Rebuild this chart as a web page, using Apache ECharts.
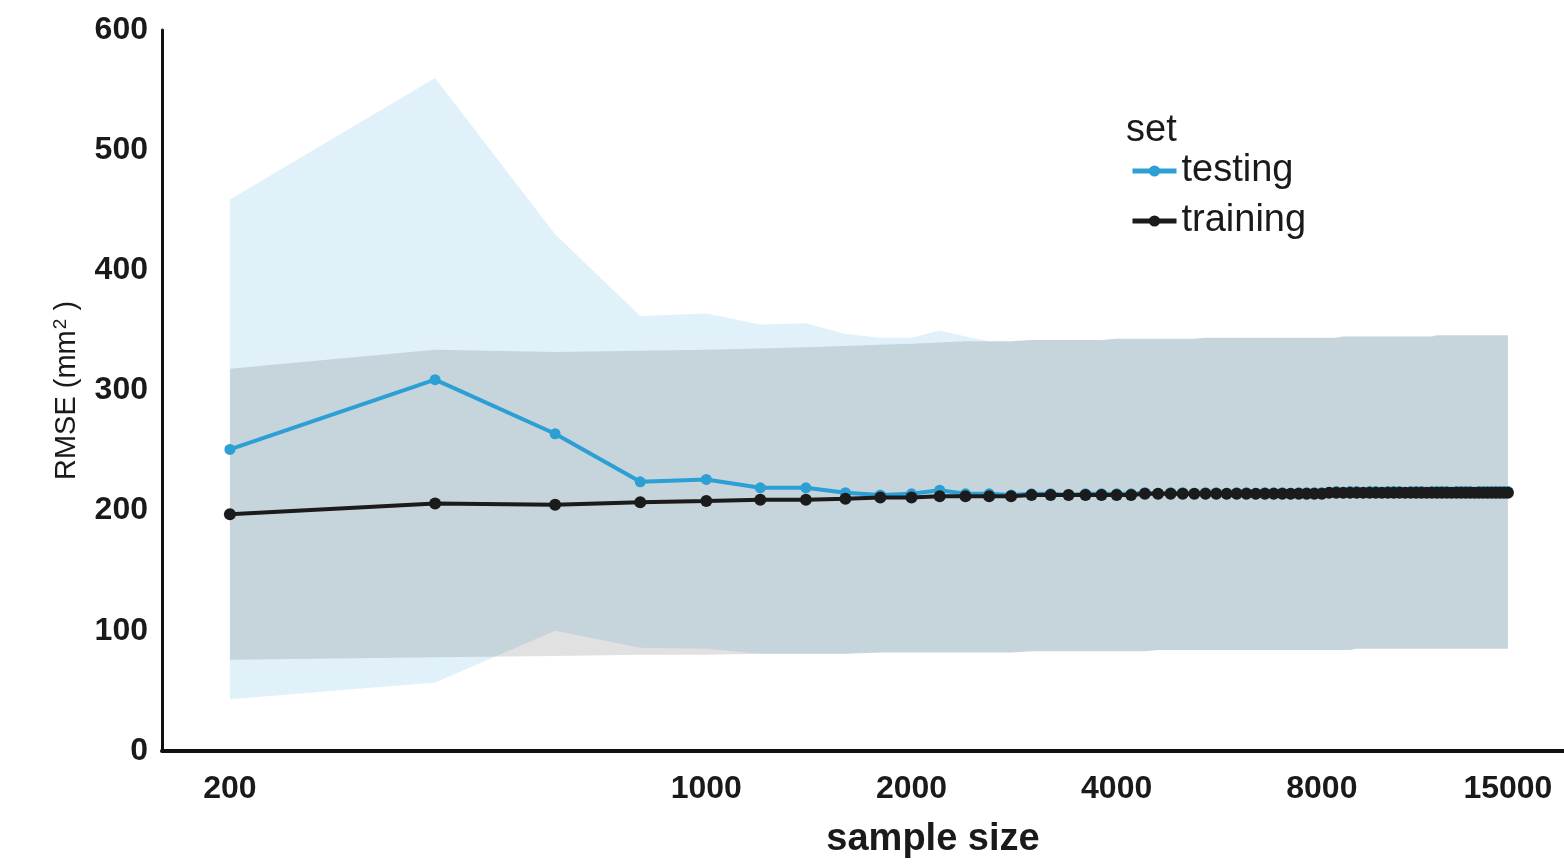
<!DOCTYPE html>
<html>
<head>
<meta charset="utf-8">
<title>RMSE vs sample size</title>
<script src="https://cdn.jsdelivr.net/npm/echarts@6/dist/echarts.min.js"></script>
<style>
  html, body { margin: 0; padding: 0; background: #ffffff; }
  #chart { width: 1564px; height: 864px; }
</style>
</head>
<body>
<div id="chart"></div>
<script>
// Sample sizes used for each run (step of 200 up to 15000)
const sampleSizes = [
  200, 400, 600, 800, 1000, 1200, 1400, 1600, 1800, 2000,
  2200, 2400, 2600, 2800, 3000, 3200, 3400, 3600, 3800, 4000,
  4200, 4400, 4600, 4800, 5000, 5200, 5400, 5600, 5800, 6000,
  6200, 6400, 6600, 6800, 7000, 7200, 7400, 7600, 7800, 8000,
  8200, 8400, 8600, 8800, 9000, 9200, 9400, 9600, 9800, 10000,
  10200, 10400, 10600, 10800, 11000, 11200, 11400, 11600, 11800, 12000,
  12200, 12400, 12600, 12800, 13000, 13200, 13400, 13600, 13800, 14000,
  14200, 14400, 14600, 14800, 15000
];

// Mean RMSE on the testing set
const testingMean = [
  251, 309, 264, 224, 226, 219, 219, 215, 213, 214,
  217, 214, 214, 213, 214, 214, 213, 214, 214, 214,
  214, 215, 214, 215, 215, 214, 215, 215, 214, 215,
  215, 214, 215, 215, 215, 214, 215, 215, 215, 215,
  215, 216, 215, 216, 216, 215, 216, 216, 215, 216,
  216, 216, 215, 216, 216, 216, 215, 216, 216, 216,
  216, 215, 216, 216, 216, 216, 215, 216, 216, 216,
  216, 216, 216, 216, 216
];

// Mean RMSE on the training set
const trainingMean = [
  197, 206, 205, 207, 208, 209, 209, 210, 211, 211,
  212, 212, 212, 212, 213, 213, 213, 213, 213, 213,
  213, 214, 214, 214, 214, 214, 214, 214, 214, 214,
  214, 214, 214, 214, 214, 214, 214, 214, 214, 214,
  215, 215, 215, 215, 215, 215, 215, 215, 215, 215,
  215, 215, 215, 215, 215, 215, 215, 215, 215, 215,
  215, 215, 215, 215, 215, 215, 215, 215, 215, 215,
  215, 215, 215, 215, 215
];

// Spread of the testing RMSE (upper / lower edge of the band)
const testingUpper = [
  459, 560, 430, 362, 364, 355, 356, 347, 344, 344,
  350, 345, 341, 341, 342, 342, 342, 342, 342, 343,
  343, 343, 343, 343, 343, 343, 344, 344, 344, 344,
  344, 344, 344, 344, 344, 344, 344, 344, 344, 344,
  344, 344, 345, 345, 345, 345, 345, 345, 345, 345,
  345, 345, 345, 345, 345, 345, 345, 345, 346, 346,
  346, 346, 346, 346, 346, 346, 346, 346, 346, 346,
  346, 346, 346, 346, 346
];
const testingLower = [
  43, 57, 100, 86, 85, 81, 81, 81, 82, 82,
  82, 82, 82, 82, 83, 83, 83, 83, 83, 83,
  83, 83, 84, 84, 84, 84, 84, 84, 84, 84,
  84, 84, 84, 84, 84, 84, 84, 84, 84, 84,
  84, 84, 84, 84, 85, 85, 85, 85, 85, 85,
  85, 85, 85, 85, 85, 85, 85, 85, 85, 85,
  85, 85, 85, 85, 85, 85, 85, 85, 85, 85,
  85, 85, 85, 85, 85
];

// Spread of the training RMSE
const trainingUpper = [
  318, 334, 332, 333, 334, 335, 336, 337, 338, 339,
  340, 341, 341, 341, 342, 342, 342, 342, 342, 343,
  343, 343, 343, 343, 343, 343, 344, 344, 344, 344,
  344, 344, 344, 344, 344, 344, 344, 344, 344, 344,
  344, 344, 345, 345, 345, 345, 345, 345, 345, 345,
  345, 345, 345, 345, 345, 345, 345, 345, 346, 346,
  346, 346, 346, 346, 346, 346, 346, 346, 346, 346,
  346, 346, 346, 346, 346
];
const trainingLower = [
  76, 78, 79, 80, 80, 81, 81, 81, 82, 82,
  82, 82, 82, 82, 83, 83, 83, 83, 83, 83,
  83, 83, 84, 84, 84, 84, 84, 84, 84, 84,
  84, 84, 84, 84, 84, 84, 84, 84, 84, 84,
  84, 84, 84, 84, 85, 85, 85, 85, 85, 85,
  85, 85, 85, 85, 85, 85, 85, 85, 85, 85,
  85, 85, 85, 85, 85, 85, 85, 85, 85, 85,
  85, 85, 85, 85, 85
];

// Tick labels along the sample-size axis
const xTickValues = [200, 1000, 2000, 4000, 8000, 15000];
const yTicks = { min: 0, max: 600, interval: 100 };

const TESTING_COLOR = '#2c9fd4';
const TRAINING_COLOR = '#1b1b1b';
const TEXT_COLOR = '#1a1a1a';
const FONT = 'Liberation Sans, Arial, sans-serif';

// A shaded band between two edges, drawn as one polygon in data coordinates
function bandSeries(name, upper, lower, fill, z) {
  return {
    name: name,
    type: 'custom',
    coordinateSystem: 'cartesian2d',
    silent: true,
    z: z,
    data: [[sampleSizes[0], upper[0]]],
    renderItem: function (params, api) {
      const pts = [];
      for (let i = 0; i < sampleSizes.length; i++) {
        pts.push(api.coord([sampleSizes[i], upper[i]]));
      }
      for (let i = sampleSizes.length - 1; i >= 0; i--) {
        pts.push(api.coord([sampleSizes[i], lower[i]]));
      }
      return { type: 'polygon', shape: { points: pts }, style: { fill: fill } };
    }
  };
}

const chart = echarts.init(document.getElementById('chart'), null, { renderer: 'canvas' });

chart.setOption({
  backgroundColor: '#ffffff',
  animation: false,
  textStyle: { fontFamily: FONT },
  title: {
    text: 'set',
    left: 1121,
    top: 107,
    textStyle: { fontSize: 38, fontWeight: 'normal', color: TEXT_COLOR, fontFamily: FONT }
  },
  legend: {
    data: ['testing', 'training'],
    orient: 'vertical',
    left: 1125,
    top: 147,
    itemWidth: 44,
    itemHeight: 14,
    itemGap: 12,
    lineStyle: { width: 5 },
    itemStyle: { borderWidth: 0 },
    textStyle: { fontSize: 38, color: TEXT_COLOR, fontFamily: FONT, padding: [0, 0, 0, 0] }
  },
  grid: { left: 162, right: 0, top: 30, bottom: 112, containLabel: false },
  xAxis: {
    type: 'log',
    logBase: 2,
    min: 159,
    max: 18130,
    name: 'sample size',
    nameLocation: 'middle',
    nameGap: 70,
    nameTextStyle: { fontSize: 38, fontWeight: 'bold', color: TEXT_COLOR, padding: [0, 0, 0, 140] },
    axisLine: { show: true, lineStyle: { color: '#111111', width: 4 } },
    axisTick: { show: false },
    splitLine: { show: false },
    axisLabel: {
      customValues: xTickValues,
      margin: 22,
      fontSize: 32,
      fontWeight: 'bold',
      color: TEXT_COLOR,
      formatter: function (v) { return String(Math.round(v)); }
    }
  },
  yAxis: {
    type: 'value',
    min: yTicks.min,
    max: yTicks.max,
    interval: yTicks.interval,
    name: '{a|RMSE (mm}{s|2}{a| )}',
    nameLocation: 'middle',
    nameGap: 80,
    nameRotate: 90,
    nameTextStyle: {
      color: TEXT_COLOR,
      rich: {
        a: { fontSize: 29, color: TEXT_COLOR, fontFamily: FONT },
        s: { fontSize: 19, color: TEXT_COLOR, verticalAlign: 'top', padding: [0, 0, 12, 1], fontFamily: FONT }
      }
    },
    axisLine: { show: true, lineStyle: { color: '#111111', width: 3 } },
    axisTick: { show: false },
    splitLine: { show: false },
    axisLabel: { margin: 14, fontSize: 32, fontWeight: 'bold', color: TEXT_COLOR }
  },
  series: [
    bandSeries('testing band', testingUpper, testingLower, 'rgba(44,159,212,0.15)', 1),
    bandSeries('training band', trainingUpper, trainingLower, 'rgba(55,55,55,0.15)', 2),
    {
      name: 'testing',
      type: 'line',
      z: 3,
      data: sampleSizes.map((s, i) => [s, testingMean[i]]),
      symbol: 'circle',
      symbolSize: 11,
      lineStyle: { color: TESTING_COLOR, width: 4 },
      itemStyle: { color: TESTING_COLOR },
      emphasis: { disabled: true }
    },
    {
      name: 'training',
      type: 'line',
      z: 4,
      data: sampleSizes.map((s, i) => [s, trainingMean[i]]),
      symbol: 'circle',
      symbolSize: 12,
      lineStyle: { color: TRAINING_COLOR, width: 4 },
      itemStyle: { color: TRAINING_COLOR },
      emphasis: { disabled: true }
    }
  ]
});
</script>
</body>
</html>
